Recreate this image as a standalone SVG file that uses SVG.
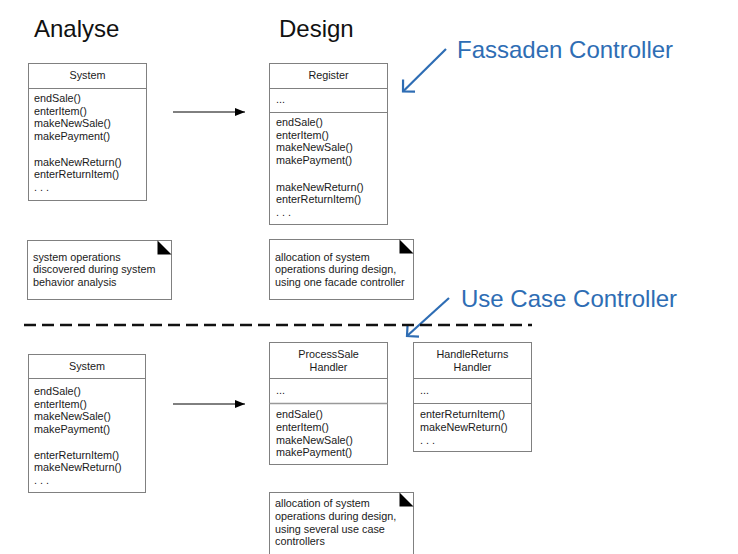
<svg xmlns="http://www.w3.org/2000/svg" width="738" height="554" viewBox="0 0 738 554">
<defs>
<style>
.box{fill:#fff;stroke:#808080;stroke-width:1}
.sep{stroke:#808080;stroke-width:1}
.t{font-family:"Liberation Sans",Arial,sans-serif;font-size:10.8px;fill:#1a1a1a}
.c{text-anchor:middle}
.title{font-family:"Liberation Sans",Arial,sans-serif;font-size:24px;fill:#111}
.blue{font-family:"Liberation Sans",Arial,sans-serif;font-size:24px;fill:#2e6db4}
.fold{fill:#000}
.conn{stroke:#000;stroke-width:1;fill:none}
.bl{stroke:#2e6db4;stroke-width:2.2;fill:none}
</style>
<marker id="ah" viewBox="0 0 10 8" refX="10" refY="4" markerWidth="10" markerHeight="8" markerUnits="userSpaceOnUse" orient="auto">
<path d="M0,0 L10,4 L0,8 Z" fill="#000"/>
</marker>
<marker id="bh" viewBox="-10 -10 12 20" refX="0" refY="0" markerWidth="12" markerHeight="20" markerUnits="userSpaceOnUse" orient="auto">
<path d="M-8.5,-8.5 L0,0 L-8.5,8.5" fill="none" stroke="#2e6db4" stroke-width="2.2"/>
</marker>
</defs>
<rect width="738" height="554" fill="#fff"/>

<text class="title" x="34" y="37">Analyse</text>
<text class="title" x="279" y="37">Design</text>
<text class="blue" x="457" y="58">Fassaden Controller</text>
<text class="blue" x="461" y="307">Use Case Controller</text>

<g id="connectors">
<line class="conn" x1="173" y1="112" x2="245" y2="112" marker-end="url(#ah)"/>
<line class="conn" x1="173" y1="404" x2="245" y2="404" marker-end="url(#ah)"/>
<line class="bl" x1="446" y1="49" x2="403" y2="91.5" marker-end="url(#bh)"/>
<line class="bl" x1="449" y1="298" x2="407" y2="336" marker-end="url(#bh)"/>
<line x1="24" y1="325" x2="532" y2="325" stroke="#111" stroke-width="2.5" stroke-dasharray="12 6"/>
</g>

<g id="system-analysis">
<rect class="box" x="28.5" y="63.5" width="118" height="137"/>
<line class="sep" x1="28.5" y1="88.5" x2="146.5" y2="88.5"/>
<text class="t c" x="87.5" y="79">System</text>
<text class="t" x="34" y="102">endSale()</text>
<text class="t" x="34" y="114.7">enterItem()</text>
<text class="t" x="34" y="127.4">makeNewSale()</text>
<text class="t" x="34" y="140.1">makePayment()</text>
<text class="t" x="34" y="165.5">makeNewReturn()</text>
<text class="t" x="34" y="178.2">enterReturnItem()</text>
<text class="t" x="34" y="191">. . .</text>
</g>

<g id="register">
<rect class="box" x="269.5" y="63.5" width="118" height="161"/>
<line class="sep" x1="269.5" y1="88.5" x2="387.5" y2="88.5"/>
<line class="sep" x1="269.5" y1="112.5" x2="387.5" y2="112.5"/>
<text class="t c" x="328.5" y="79">Register</text>
<text class="t" x="276" y="103">...</text>
<text class="t" x="276" y="126">endSale()</text>
<text class="t" x="276" y="138.7">enterItem()</text>
<text class="t" x="276" y="151.4">makeNewSale()</text>
<text class="t" x="276" y="164.1">makePayment()</text>
<text class="t" x="276" y="190.5">makeNewReturn()</text>
<text class="t" x="276" y="203.2">enterReturnItem()</text>
<text class="t" x="276" y="216">. . .</text>
</g>

<g id="note-analysis">
<rect class="box" x="27.5" y="240.5" width="144" height="59"/>
<path class="fold" d="M157.5,240.5 L157.5,254.5 L171.5,254.5 Z"/>
<text class="t" x="33" y="260.5">system operations</text>
<text class="t" x="33" y="273.2">discovered during system</text>
<text class="t" x="33" y="285.9">behavior analysis</text>
</g>

<g id="note-facade">
<rect class="box" x="269.5" y="239.5" width="144" height="60"/>
<path class="fold" d="M399.5,239.5 L399.5,253.5 L413.5,253.5 Z"/>
<text class="t" x="275" y="260.5">allocation of system</text>
<text class="t" x="275" y="273.2">operations during design,</text>
<text class="t" x="275" y="285.9">using one facade controller</text>
</g>

<g id="system-analysis-2">
<rect class="box" x="28.5" y="354.5" width="117" height="138"/>
<line class="sep" x1="28.5" y1="378.5" x2="145.5" y2="378.5"/>
<text class="t c" x="87" y="370">System</text>
<text class="t" x="34" y="395">endSale()</text>
<text class="t" x="34" y="407.7">enterItem()</text>
<text class="t" x="34" y="420.4">makeNewSale()</text>
<text class="t" x="34" y="433.1">makePayment()</text>
<text class="t" x="34" y="458.5">enterReturnItem()</text>
<text class="t" x="34" y="471.2">makeNewReturn()</text>
<text class="t" x="34" y="484">. . .</text>
</g>

<g id="processsale-handler">
<rect class="box" x="269.5" y="342.5" width="118" height="122"/>
<line class="sep" x1="269.5" y1="378.5" x2="387.5" y2="378.5"/>
<line x1="269.5" y1="403.5" x2="387.5" y2="403.5" stroke="#999" stroke-width="1.6"/>
<text class="t c" x="328.5" y="357.5">ProcessSale</text>
<text class="t c" x="328.5" y="370.5">Handler</text>
<text class="t" x="276" y="394">...</text>
<text class="t" x="276" y="418.3">endSale()</text>
<text class="t" x="276" y="431">enterItem()</text>
<text class="t" x="276" y="443.7">makeNewSale()</text>
<text class="t" x="276" y="456.4">makePayment()</text>
</g>

<g id="handlereturns-handler">
<rect class="box" x="413.5" y="342.5" width="118" height="109"/>
<line class="sep" x1="413.5" y1="378.5" x2="531.5" y2="378.5"/>
<line class="sep" x1="413.5" y1="403.5" x2="531.5" y2="403.5"/>
<text class="t c" x="472.5" y="357.5">HandleReturns</text>
<text class="t c" x="472.5" y="370.5">Handler</text>
<text class="t" x="420" y="394">...</text>
<text class="t" x="420" y="418.3">enterReturnItem()</text>
<text class="t" x="420" y="431">makeNewReturn()</text>
<text class="t" x="420" y="443.5">. . .</text>
</g>

<g id="note-usecase">
<rect class="box" x="269.5" y="492.5" width="144" height="70"/>
<path class="fold" d="M399.5,492.5 L399.5,506.5 L413.5,506.5 Z"/>
<text class="t" x="275" y="507.3">allocation of system</text>
<text class="t" x="275" y="520">operations during design,</text>
<text class="t" x="275" y="532.7">using several use case</text>
<text class="t" x="275" y="545.4">controllers</text>
</g>
</svg>
